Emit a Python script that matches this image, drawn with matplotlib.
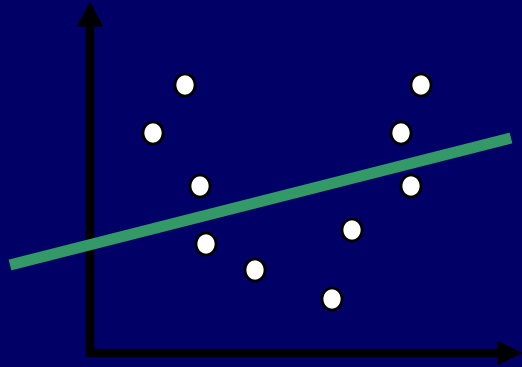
import matplotlib
matplotlib.use("Agg")
import matplotlib.pyplot as plt
from matplotlib.patches import Ellipse, FancyArrow

# scatter points (pixel-like units, y measured upward)
pts_x = [185, 153, 200, 206, 255, 332, 352, 411, 401, 421]
pts_y = [282, 234, 181, 123, 97, 68, 137, 181, 234, 282]

# fitted (bad) straight line
line_x = [10, 511]
line_y = [102, 229]

W, H = 522, 367
bg = "#000066"

fig = plt.figure(figsize=(W / 100, H / 100), dpi=100)
fig.patch.set_facecolor(bg)
ax = fig.add_axes([0, 0, 1, 1])
ax.set_facecolor(bg)
ax.set_xlim(0, W)
ax.set_ylim(0, H)
ax.axis("off")

# axes with arrow heads
ax.add_patch(FancyArrow(90, 14, 0, 350, width=7, head_width=24, head_length=23,
                        length_includes_head=True, color="black", zorder=2))
ax.add_patch(FancyArrow(87, 14, 434, 0, width=7, head_width=22, head_length=23,
                        length_includes_head=True, color="black", zorder=2))

ax.plot(line_x, line_y, color="#339966", linewidth=8, solid_capstyle="butt", zorder=3)

for x, y in zip(pts_x, pts_y):
    ax.add_patch(Ellipse((x, y), 20, 22, facecolor="white", edgecolor="black",
                         linewidth=2, zorder=4))

fig.savefig("out.png", dpi=100, facecolor=bg)
